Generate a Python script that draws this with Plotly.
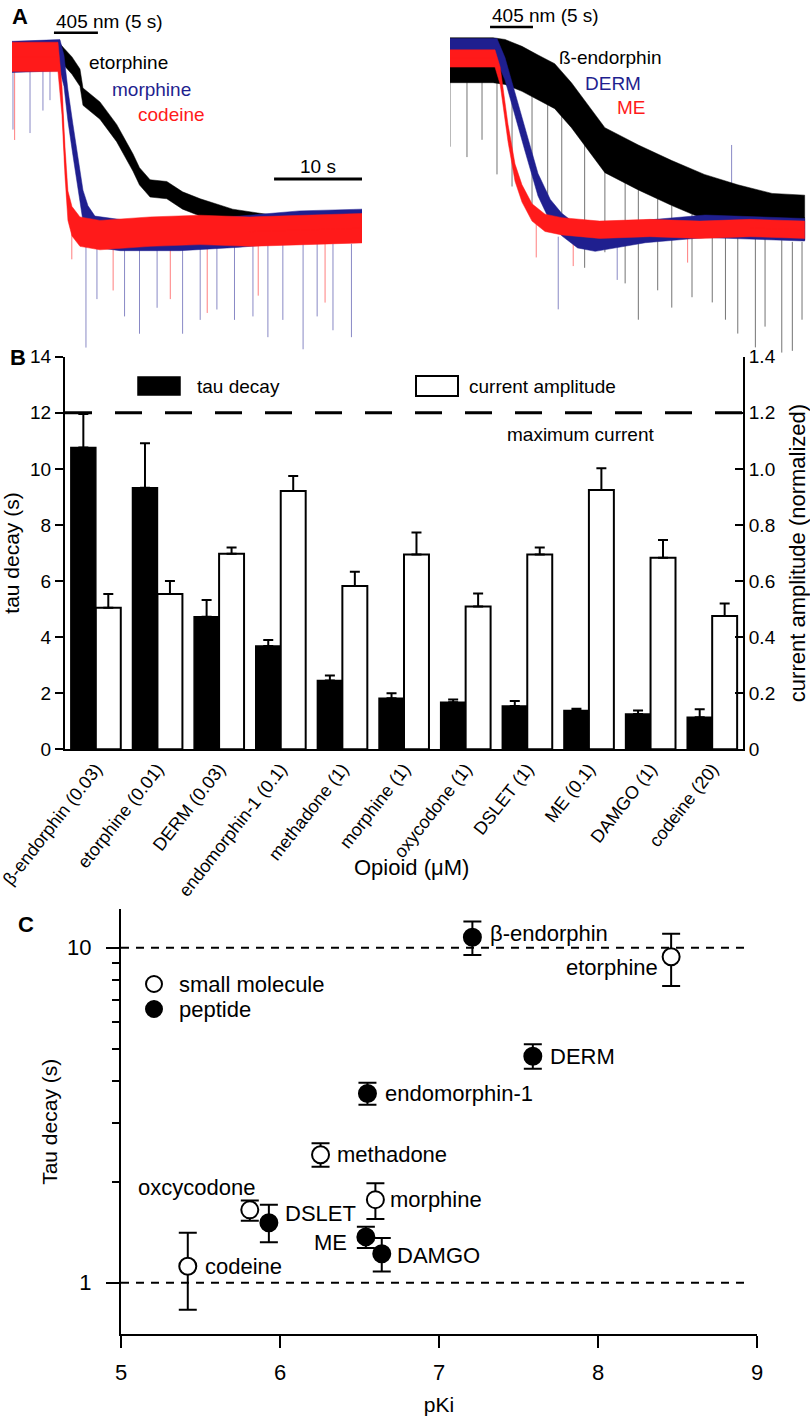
import math
import plotly.graph_objects as go

W, H = 810, 1420
FONT = "Liberation Sans, Arial, Helvetica, sans-serif"
BLACK = "#000000"
BLUE = "#1f1f8f"
RED = "#ff1a1a"


def px(x):
    return x / W


def py(y):
    return 1 - y / H


# ---------------- Panel A, left: time (s) vs normalized current ----------------
etorphine_t = [0, 5.23, 5.91, 6.82, 7.73, 8.07, 10.0, 11.9, 13.75, 14.5, 15.7, 17.6, 19.4, 21.4, 25.1, 29.0, 39.8]
etorphine_v = [1.00, 1.04, 1.00, 0.95, 0.88, 0.77, 0.69, 0.56, 0.39, 0.31, 0.24, 0.23, 0.17, 0.13, 0.07, 0.04, 0.01]
morphine_t = [0, 5.45, 5.91, 6.36, 6.93, 7.50, 8.07, 8.64, 9.43, 12.3, 19.1, 25.9, 32.7, 39.8]
morphine_v = [1.00, 1.01, 0.92, 0.72, 0.52, 0.32, 0.14, 0.05, -0.01, -0.03, -0.03, -0.01, 0.02, 0.03]
codeine_t = [0, 5.23, 5.68, 6.02, 6.36, 6.82, 7.73, 10.0, 15.7, 21.4, 27.0, 32.7, 39.8]
codeine_v = [1.00, 1.00, 0.75, 0.40, 0.14, 0.05, -0.01, -0.03, -0.01, 0.00, -0.01, 0.00, 0.01]

left_blue_spike_t = [0.11, 2.05, 3.52, 4.32, 8.41, 9.66, 12.8, 14.5, 16.5, 19.4, 21.4, 23.3, 25.3, 27.4, 29.1, 30.8, 33.1, 34.7, 36.5, 38.6]
left_blue_spike_top = [0.92, 0.92, 0.92, 0.92, -0.08, -0.08, -0.08, -0.08, -0.08, -0.08, -0.08, -0.08, -0.08, -0.08, -0.08, -0.08, -0.08, -0.08, -0.08, -0.08]
left_blue_spike_bot = [0.58, 0.56, 0.69, 0.75, -0.68, -0.40, -0.50, -0.60, -0.45, -0.60, -0.52, -0.46, -0.52, -0.50, -0.62, -0.52, -0.69, -0.50, -0.58, -0.62]
left_red_spike_t = [0.3, 6.8, 11.5, 18.0, 22.2, 28.0, 35.6]
left_red_spike_top = [0.92, 0.05, -0.08, -0.08, -0.08, -0.08, -0.08]
left_red_spike_bot = [0.52, -0.17, -0.35, -0.40, -0.48, -0.38, -0.42]

# ---------------- Panel A, right ----------------
bendo_t = [0, 4.89, 6.25, 8.18, 10.0, 11.9, 13.8, 15.7, 17.6, 21.4, 25.2, 28.9, 32.7, 36.6, 40.3]
bendo_v = [0.97, 0.97, 0.96, 0.92, 0.87, 0.82, 0.71, 0.58, 0.45, 0.35, 0.26, 0.18, 0.12, 0.07, 0.06]
derm_t = [0, 5.34, 6.25, 7.05, 8.52, 10.0, 11.4, 12.7, 14.5, 16.5, 18.8, 22.2, 29.0, 34.1, 40.3]
derm_v = [1.03, 1.03, 0.92, 0.78, 0.51, 0.25, 0.10, 0.02, -0.05, -0.07, -0.05, -0.02, 0.01, 0.00, -0.01]
me_t = [0, 5.11, 5.70, 6.25, 6.59, 7.39, 8.18, 9.32, 10.8, 12.7, 17.0, 22.7, 28.4, 34.1, 40.3]
me_v = [0.98, 0.98, 0.88, 0.68, 0.55, 0.32, 0.20, 0.09, 0.03, 0.01, -0.01, 0.00, -0.01, 0.00, -0.01]

right_black_spike_t = [0, 1.93, 3.64, 5.34, 7.05, 9.32, 11.1, 12.7, 15.3, 17.6, 19.9, 21.4, 23.6, 25.2, 27.5, 29.8, 31.3, 32.7, 34.7, 35.8, 37.7, 38.9, 40.0]
right_black_spike_top = [0.90, 0.90, 0.90, 0.90, 0.85, 0.80, 0.72, 0.65, 0.50, 0.35, 0.28, 0.22, 0.17, 0.13, 0.08, 0.05, 0.02, 0.00, -0.04, -0.05, -0.07, -0.08, -0.08]
right_black_spike_bot = [0.47, 0.41, 0.51, 0.31, 0.24, 0.12, 0.16, -0.03, -0.23, -0.14, -0.32, -0.53, -0.36, -0.46, -0.40, -0.43, -0.53, -0.61, -0.69, -0.57, -0.72, -0.71, -0.53]
right_blue_spike_t = [12.3, 19.0, 32.0]
right_blue_spike_top = [-0.05, -0.05, 0.16]
right_blue_spike_bot = [-0.47, -0.30, 0.48]
right_red_spike_t = [9.8, 14.0, 27.0]
right_red_spike_top = [0.05, -0.04, -0.04]
right_red_spike_bot = [-0.17, -0.22, -0.20]

# ---------------- Panel B ----------------
opioids = ["β-endorphin (0.03)", "etorphine (0.01)", "DERM (0.03)", "endomorphin-1 (0.1)",
           "methadone (1)", "morphine (1)", "oxycodone (1)", "DSLET (1)", "ME (0.1)",
           "DAMGO (1)", "codeine (20)"]
tau_decay = [10.76, 9.33, 4.73, 3.68, 2.45, 1.82, 1.68, 1.54, 1.38, 1.26, 1.14]
tau_err = [1.20, 1.58, 0.59, 0.22, 0.18, 0.18, 0.10, 0.18, 0.07, 0.12, 0.29]
amplitude = [0.505, 0.554, 0.697, 0.921, 0.582, 0.695, 0.509, 0.695, 0.925, 0.683, 0.475]
amplitude_err = [0.049, 0.046, 0.023, 0.054, 0.051, 0.078, 0.047, 0.025, 0.077, 0.063, 0.045]
max_current = 1.2
left_ticks = [0, 2, 4, 6, 8, 10, 12, 14]
right_ticks = [0, 0.2, 0.4, 0.6, 0.8, 1.0, 1.2, 1.4]
right_tick_text = ["0", "0.2", "0.4", "0.6", "0.8", "1.0", "1.2", "1.4"]

# ---------------- Panel C ----------------
small_names = ["etorphine", "methadone", "morphine", "oxcycodone", "codeine"]
small_pki = [8.46, 6.255, 6.60, 5.81, 5.42]
small_tau = [9.40, 2.41, 1.77, 1.65, 1.12]
small_err_up = [1.60, 0.20, 0.21, 0.11, 0.29]
small_err_dn = [1.72, 0.19, 0.22, 0.12, 0.29]
pep_names = ["β-endorphin", "DERM", "endomorphin-1", "DSLET", "ME", "DAMGO"]
pep_pki = [7.21, 7.59, 6.55, 5.93, 6.54, 6.64]
pep_tau = [10.75, 4.74, 3.67, 1.51, 1.37, 1.22]
pep_err_up = [1.22, 0.41, 0.28, 0.20, 0.10, 0.14]
pep_err_dn = [1.24, 0.39, 0.27, 0.19, 0.10, 0.14]
ref_levels = [1, 10]

fig = go.Figure()


def band(t, v, hw, color, xa, ya):
    xs = list(t) + list(t)[::-1]
    ys = [a + hw for a in v] + [a - hw for a in v][::-1]
    fig.add_trace(go.Scatter(x=xs, y=ys, fill="toself", fillcolor=color, mode="lines",
                             line=dict(width=0.5, color=color), xaxis=xa, yaxis=ya,
                             hoverinfo="skip", showlegend=False))
    fig.add_trace(go.Scatter(x=t, y=v, mode="lines", line=dict(width=1, color=color),
                             xaxis=xa, yaxis=ya, hoverinfo="skip", showlegend=False))


def spikes(t, top, bot, color, xa, ya):
    xs, ys = [], []
    for a, b, c in zip(t, top, bot):
        xs += [a, a, None]
        ys += [b, c, None]
    fig.add_trace(go.Scatter(x=xs, y=ys, mode="lines", line=dict(width=1, color=color),
                             xaxis=xa, yaxis=ya, hoverinfo="skip", showlegend=False))


# Panel A left
spikes(left_blue_spike_t, left_blue_spike_top, left_blue_spike_bot, "rgba(40,40,150,0.55)", "x", "y")
spikes(left_red_spike_t, left_red_spike_top, left_red_spike_bot, "rgba(255,40,40,0.6)", "x", "y")
band(etorphine_t, etorphine_v, 0.05, BLACK, "x", "y")
band(morphine_t, morphine_v, 0.09, BLUE, "x", "y")
band(codeine_t, codeine_v, 0.085, RED, "x", "y")

# Panel A right
spikes(right_black_spike_t, right_black_spike_top, right_black_spike_bot, "rgba(0,0,0,0.55)", "x2", "y2")
spikes(right_blue_spike_t, right_blue_spike_top, right_blue_spike_bot, "rgba(40,40,150,0.55)", "x2", "y2")
spikes(right_red_spike_t, right_red_spike_top, right_red_spike_bot, "rgba(255,40,40,0.6)", "x2", "y2")
band(bendo_t, bendo_v, 0.13, BLACK, "x2", "y2")
band(derm_t, derm_v, 0.065, BLUE, "x2", "y2")
band(me_t, me_v, 0.05, RED, "x2", "y2")

# Panel B bars
cat_x = list(range(len(opioids)))
fig.add_trace(go.Bar(x=cat_x, y=tau_decay, width=0.405, offset=-0.405, xaxis="x3", yaxis="y3",
                     marker=dict(color=BLACK, line=dict(color=BLACK, width=1.5)),
                     error_y=dict(type="data", symmetric=False, array=tau_err,
                                  arrayminus=[0] * len(tau_err), color=BLACK, thickness=2, width=5),
                     name="tau decay", showlegend=False))
fig.add_trace(go.Bar(x=cat_x, y=amplitude, width=0.405, offset=0.0, xaxis="x3", yaxis="y4",
                     marker=dict(color="white", line=dict(color=BLACK, width=2)),
                     error_y=dict(type="data", symmetric=False, array=amplitude_err,
                                  arrayminus=[0] * len(amplitude_err), color=BLACK, thickness=2, width=5),
                     name="current amplitude", showlegend=False))

# Panel C scatter
fig.add_trace(go.Scatter(x=small_pki, y=small_tau, mode="markers", xaxis="x5", yaxis="y5",
                         marker=dict(symbol="circle", size=17, color="white", line=dict(color=BLACK, width=2)),
                         error_y=dict(type="data", symmetric=False, array=small_err_up, arrayminus=small_err_dn,
                                      color=BLACK, thickness=2, width=9),
                         name="small molecule", showlegend=False))
fig.add_trace(go.Scatter(x=pep_pki, y=pep_tau, mode="markers", xaxis="x5", yaxis="y5",
                         marker=dict(symbol="circle", size=17, color=BLACK, line=dict(color=BLACK, width=2)),
                         error_y=dict(type="data", symmetric=False, array=pep_err_up, arrayminus=pep_err_dn,
                                      color=BLACK, thickness=2, width=9),
                         name="peptide", showlegend=False))

shapes = []
annotations = []


def ann(text, x, y, xref="paper", yref="paper", size=19, color=BLACK, xanchor="left", yanchor="middle",
        bold=False, xshift=0, yshift=0):
    annotations.append(dict(text=("<b>%s</b>" % text) if bold else text, x=x, y=y, xref=xref, yref=yref,
                            showarrow=False, xanchor=xanchor, yanchor=yanchor, xshift=xshift, yshift=yshift,
                            font=dict(family=FONT, size=size, color=color)))


# Panel A annotations / scale bars
ann("A", px(10), py(17), size=22, bold=True)
shapes.append(dict(type="line", xref="x", yref="y", x0=4.77, x1=9.77, y0=1.139, y1=1.139,
                   line=dict(color=BLACK, width=2.5)))
ann("405 nm (5 s)", 4.77, 1.205, xref="x", yref="y")
shapes.append(dict(type="line", xref="x", yref="y", x0=29.8, x1=39.8, y0=0.295, y1=0.295,
                   line=dict(color=BLACK, width=3)))
ann("10 s", 34.8, 0.365, xref="x", yref="y", xanchor="center")
ann("etorphine", 8.52, 0.965, xref="x", yref="y", color=BLACK)
ann("morphine", 11.1, 0.81, xref="x", yref="y", color=BLUE)
ann("codeine", 14.1, 0.665, xref="x", yref="y", color=RED)

shapes.append(dict(type="line", xref="x2", yref="y2", x0=4.55, x1=9.43, y0=1.162, y1=1.162,
                   line=dict(color=BLACK, width=2.5)))
ann("405 nm (5 s)", 4.55, 1.228, xref="x2", yref="y2")
ann("ß-endorphin", 12.2, 0.983, xref="x2", yref="y2", color=BLACK)
ann("DERM", 15.1, 0.838, xref="x2", yref="y2", color=BLUE)
ann("ME", 18.75, 0.694, xref="x2", yref="y2", color=RED)

# Panel B annotations
ann("B", px(8), py(357), size=22, bold=True)
shapes.append(dict(type="line", xref="x3 domain", yref="y4", x0=0, x1=1, y0=max_current, y1=max_current,
                   line=dict(color=BLACK, width=3, dash="27px,23px")))
ann("maximum current", px(580), py(435), xanchor="center")
shapes.append(dict(type="rect", xref="paper", yref="paper", x0=px(138), x1=px(180), y0=py(395), y1=py(377),
                   fillcolor=BLACK, line=dict(color=BLACK, width=1.5)))
ann("tau decay", px(195), py(386))
shapes.append(dict(type="rect", xref="paper", yref="paper", x0=px(416), x1=px(458), y0=py(396), y1=py(376),
                   fillcolor="white", line=dict(color=BLACK, width=2)))
ann("current amplitude", px(467), py(386))
ann("Opioid (μM)", px(411), py(867), size=22, xanchor="center")

# Panel C annotations
ann("C", px(16), py(924), size=22, bold=True)
for lv in ref_levels:
    shapes.append(dict(type="line", xref="x5", yref="y5", x0=5, x1=8.96, y0=lv, y1=lv,
                       line=dict(color=BLACK, width=2, dash="8px,7px")))

label_style = {
    "β-endorphin": ("left", 16, 4), "etorphine": ("right", -11, -11), "DERM": ("left", 15, 0),
    "endomorphin-1": ("left", 16, 0), "methadone": ("left", 14, 0), "morphine": ("left", 13, 0),
    "oxcycodone": ("right", 7, 22), "DSLET": ("left", 14, 9), "ME": ("right", -17, -6),
    "DAMGO": ("left", 13, -2), "codeine": ("left", 15, 0),
}
for names, xs, ys in ((small_names, small_pki, small_tau), (pep_names, pep_pki, pep_tau)):
    for n, xv, yv in zip(names, xs, ys):
        anc, dx, dy = label_style[n]
        ann(n, xv, math.log10(yv), xref="x5", yref="y5", size=22, xanchor=anc, xshift=dx, yshift=dy)

# legend C
shapes.append(dict(type="circle", xref="paper", yref="paper", x0=px(146), x1=px(162), y0=py(992), y1=py(976),
                   fillcolor="white", line=dict(color=BLACK, width=2)))
shapes.append(dict(type="circle", xref="paper", yref="paper", x0=px(146), x1=px(162), y0=py(1017), y1=py(1001),
                   fillcolor=BLACK, line=dict(color=BLACK, width=2)))
ann("small molecule", px(177), py(984), size=22)
ann("peptide", px(177), py(1009), size=22)

axis_font = dict(family=FONT, size=19, color=BLACK)
fig.update_layout(
    template="none",
    width=W, height=H, margin=dict(l=0, r=0, t=0, b=0, pad=0, autoexpand=False),
    paper_bgcolor="white", plot_bgcolor="rgba(0,0,0,0)",
    font=dict(family=FONT, size=18, color=BLACK),
    showlegend=False, barmode="overlay",
    shapes=shapes, annotations=annotations,
    xaxis=dict(domain=[px(12), px(362)], range=[0, 39.8], visible=False, anchor="y", automargin=False),
    yaxis=dict(domain=[py(355), py(0)], range=[-0.723, 1.329], visible=False, anchor="x", automargin=False),
    xaxis2=dict(domain=[px(450), px(808)], range=[0, 40.68], visible=False, anchor="y2", automargin=False),
    yaxis2=dict(domain=[py(355), py(0)], range=[-0.734, 1.318], visible=False, anchor="x2", automargin=False),
    xaxis3=dict(domain=[px(65), px(743)], range=[-0.5, 10.5], anchor="y3", showline=True, linewidth=2,
                linecolor=BLACK, ticks="", tickvals=cat_x, ticktext=opioids, tickangle=-52,
                ticklabeloverflow="allow", automargin=False,
                tickfont=dict(family=FONT, size=18, color=BLACK), showgrid=False, zeroline=False),
    yaxis3=dict(domain=[py(749.3), py(356.7)], range=[0, 14], anchor="x3", showline=True, linewidth=2,
                linecolor=BLACK, ticks="outside", ticklen=8, tickwidth=2, tickcolor=BLACK, tickvals=left_ticks,
                tickfont=axis_font, showgrid=False, zeroline=False, automargin=False,
                title=dict(text="tau decay (s)", font=dict(family=FONT, size=21, color=BLACK), standoff=6)),
    yaxis4=dict(overlaying="y3", side="right", range=[0, 1.4], anchor="x3", showline=True, linewidth=2,
                linecolor=BLACK, ticks="inside", ticklen=8, tickwidth=2, tickcolor=BLACK, tickvals=right_ticks,
                ticktext=right_tick_text, tickfont=axis_font, showgrid=False, zeroline=False, automargin=False,
                title=dict(text="current amplitude (normalized)", font=dict(family=FONT, size=22, color=BLACK),
                           standoff=16)),
    xaxis5=dict(domain=[px(121), px(757)], range=[5, 9], anchor="y5", showline=True, linewidth=2,
                linecolor=BLACK, ticks="outside", ticklen=12, tickwidth=2, tickcolor=BLACK,
                tickvals=[5, 6, 7, 8, 9], ticklabelstandoff=5, automargin=False,
                tickfont=dict(family=FONT, size=22, color=BLACK), showgrid=False, zeroline=False,
                title=dict(text="pKi", font=dict(family=FONT, size=21, color=BLACK), standoff=14)),
    yaxis5=dict(type="log", domain=[py(1334.3), py(909.3)], range=[-0.154, 1.1146], anchor="x5",
                showline=True, linewidth=2, linecolor=BLACK, ticks="outside", ticklen=13, tickwidth=2,
                tickcolor=BLACK, tickvals=[1, 10], ticktext=["1", "10"],
                tickfont=dict(family=FONT, size=22, color=BLACK), ticklabelstandoff=10, automargin=False,
                minor=dict(tickvals=[2, 3, 4, 5, 6, 7, 8, 9], ticks="outside", ticklen=7, tickwidth=2,
                           tickcolor=BLACK, showgrid=False),
                showgrid=False, zeroline=False,
                title=dict(text="Tau decay (s)", font=dict(family=FONT, size=21, color=BLACK), standoff=4)),
)

post = ("document.documentElement.style.margin='0';document.body.style.margin='0';"
        "document.body.style.padding='0';document.body.style.overflow='hidden';")
fig.write_html("out.html", config={"displayModeBar": False}, post_script=post)
